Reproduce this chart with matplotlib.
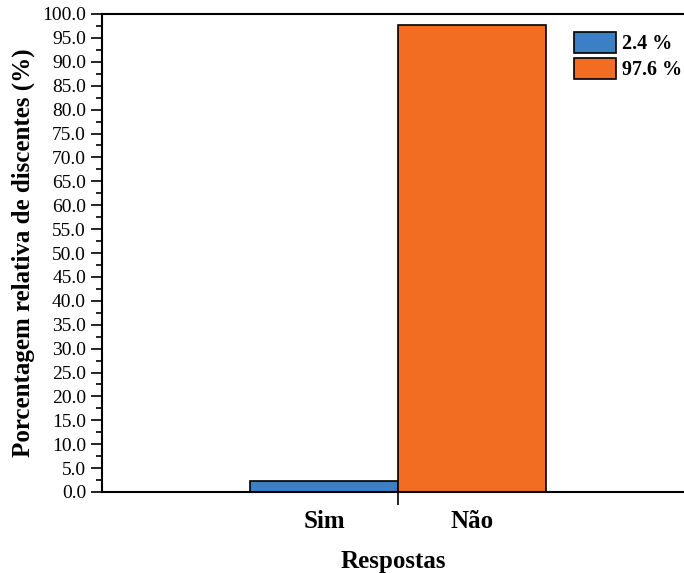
import matplotlib
matplotlib.use("Agg")
import matplotlib.pyplot as plt
from matplotlib.patches import Patch
from matplotlib.ticker import MultipleLocator, FormatStrFormatter

categories = ["Sim", "Não"]
values = [2.4, 97.6]
legend_labels = ["2.4 %", "97.6 %"]
colors = ["#3b7fc4", "#f26d22"]

plt.rcParams["font.family"] = ["Liberation Serif", "DejaVu Serif"]

fig = plt.figure(figsize=(6.84, 5.73), dpi=100)
ax = fig.add_axes([102 / 684, 81 / 573, 582 / 684, 478 / 573])

x = list(range(len(categories)))
ax.bar(x, values, width=1.0, color=colors, edgecolor="black", linewidth=1.2)

ax.set_xlim(-1.5, 2.43)
ax.set_ylim(0, 100)
ax.yaxis.set_major_locator(MultipleLocator(5))
ax.yaxis.set_minor_locator(MultipleLocator(2.5))
ax.yaxis.set_major_formatter(FormatStrFormatter("%.1f"))

# category labels without ticks, one tick at the boundary between bars
ax.set_xticks([0.5])
ax.set_xticklabels([""])
ax.set_xticks(x, minor=True)
ax.set_xticklabels(categories, minor=True, fontweight="bold", fontsize=18)
ax.tick_params(axis="x", which="minor", length=0, pad=13)
ax.tick_params(axis="x", which="major", length=9, width=1.2, direction="out")
ax.tick_params(axis="y", which="major", length=8, width=1.2, direction="out", labelsize=14)
ax.tick_params(axis="y", which="minor", length=4, width=1.2, direction="out")

for s in ["left", "bottom", "top"]:
    ax.spines[s].set_linewidth(1.5)
ax.spines["right"].set_visible(False)

ax.set_ylabel("Porcentagem relativa de discentes (%)", fontweight="bold", fontsize=18, labelpad=5)
ax.set_xlabel("Respostas", fontweight="bold", fontsize=18, labelpad=12)

handles = [Patch(facecolor=c, edgecolor="black", linewidth=1.2) for c in colors]
ax.legend(handles, legend_labels, loc="upper left", bbox_to_anchor=(0.7975, 0.98),
          frameon=False, prop={"weight": "bold", "size": 14.5},
          handlelength=2.1, handleheight=1.25, handletextpad=0.25, labelspacing=0.2,
          borderaxespad=0)

fig.savefig("out.png", dpi=100)
